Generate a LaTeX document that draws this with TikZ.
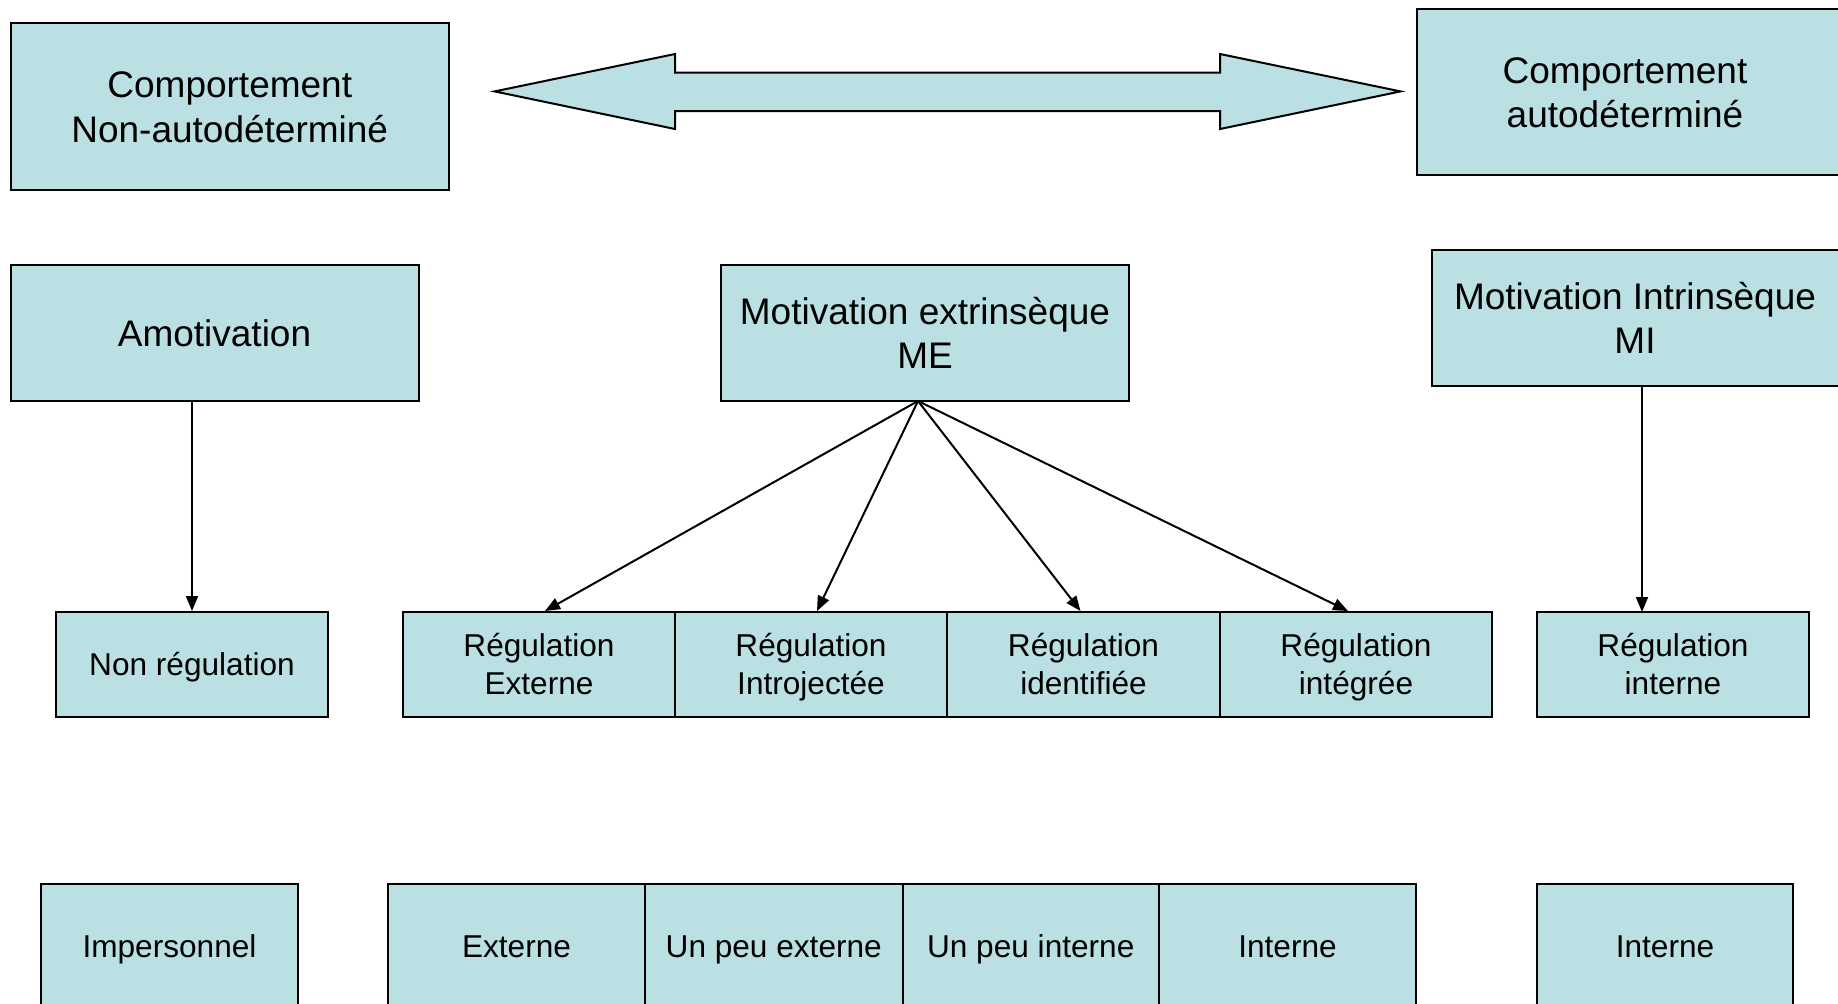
\documentclass[tikz,border=0pt]{standalone}
\usepackage{fontspec}
\setmainfont{Liberation Sans}
\usetikzlibrary{arrows.meta}
\definecolor{boxfill}{RGB}{186,224,227}
\newcommand\mystrut{\rule[-0.2\baselineskip]{0pt}{\baselineskip}}
\tikzset{
  box/.style={draw=black, line width=1pt, fill=boxfill, inner sep=0pt, align=center},
  bigtxt/.style={font=\fontsize{18.5pt}{22.3pt}\selectfont},
  smalltxt/.style={font=\fontsize{15.8pt}{18.8pt}\selectfont},
  txt/.style={inner sep=0pt, align=center},
  arr/.style={draw=black, line width=1pt, -{Triangle[length=7.5pt,width=6pt]}},
  bigarrow/.style={draw=black, line width=1pt, fill=boxfill, line join=miter}
}
\begin{document}
\begin{tikzpicture}[x=0.5pt, y=-0.5pt]
\useasboundingbox (0,0) rectangle (1838,1003);
\clip (0,0) rectangle (1838,1003);
% top row
\node[box, bigtxt, minimum width=219.25pt, minimum height=83.3pt] (tl) at (229.75,106.7) {\mystrut Comportement\\Non-autodéterminé\mystrut};
\node[box, minimum width=215pt, minimum height=82.6pt, anchor=west] (tr) at (1416,92) {};
\node[txt, bigtxt] (trt) at (1625,92) {\mystrut Comportement\\autodéterminé\mystrut};
% double arrow
\coordinate (la) at (494.6,91.4);
\coordinate (ra) at (1400.6,91.4);
\draw[bigarrow] (la) -- (675,54) -- (675,72.7) -- (1220,72.7) -- (1220,54) -- (ra)
  -- (1220,129) -- (1220,111) -- (675,111) -- (675,129) -- cycle;
% second row
\node[box, bigtxt, minimum width=204pt, minimum height=68pt] (amo) at (214.5,333) {\mystrut Amotivation};
\node[box, bigtxt, minimum width=204pt, minimum height=68pt] (me) at (925,333) {\mystrut Motivation extrinsèque\\ME\mystrut};
\node[box, minimum width=215pt, minimum height=68pt, anchor=west] (mi) at (1431,318) {};
\node[txt, bigtxt] (mit) at (1635,318) {\mystrut Motivation Intrinsèque\\MI\mystrut};
% third row
\node[box, smalltxt, minimum width=136pt, minimum height=52.5pt] (nonreg) at (192,664.5) {\mystrut Non régulation};
\node[box, smalltxt, minimum width=136pt, minimum height=52.5pt] (r1) at (539,664.5) {\mystrut Régulation\\Externe\mystrut};
\node[box, smalltxt, minimum width=136pt, minimum height=52.5pt] (r2) at (811,664.5) {\mystrut Régulation\\Introjectée\mystrut};
\node[box, smalltxt, minimum width=136.5pt, minimum height=52.5pt] (r3) at (1083.5,664.5) {\mystrut Régulation\\identifiée\mystrut};
\node[box, smalltxt, minimum width=136pt, minimum height=52.5pt] (r4) at (1356,664.5) {\mystrut Régulation\\intégrée\mystrut};
\node[box, smalltxt, minimum width=136pt, minimum height=52.5pt] (regint) at (1673,664.5) {\mystrut Régulation\\interne\mystrut};
% bottom row
\node[box, smalltxt, minimum width=128.5pt, minimum height=62pt] (imp) at (169.5,946) {\mystrut Impersonnel};
\node[box, smalltxt, minimum width=128.5pt, minimum height=62pt] (e1) at (516.5,946) {\mystrut Externe};
\node[box, smalltxt, minimum width=128.75pt, minimum height=62pt] (e2) at (773.75,946) {\mystrut Un peu externe};
\node[box, smalltxt, minimum width=128.25pt, minimum height=62pt] (e3) at (1030.75,946) {\mystrut Un peu interne};
\node[box, smalltxt, minimum width=128.5pt, minimum height=62pt] (e4) at (1287.5,946) {\mystrut Interne};
\node[box, smalltxt, minimum width=128pt, minimum height=62pt] (int) at (1665,946) {\mystrut Interne};
% connectors
\draw[arr] (nonreg.north |- amo.south) -- (nonreg.north);
\coordinate (miend) at (1642,612);
\draw[arr] (miend |- mi.south) -- (miend);
\coordinate (mes) at (918,401);
\draw[arr] (mes) -- ([xshift=3pt]r1.north);
\draw[arr] (mes) -- ([xshift=3pt]r2.north);
\draw[arr] (mes) -- ([xshift=-1.5pt]r3.north);
\draw[arr] (mes) -- ([xshift=-4pt]r4.north);
\end{tikzpicture}
\end{document}
